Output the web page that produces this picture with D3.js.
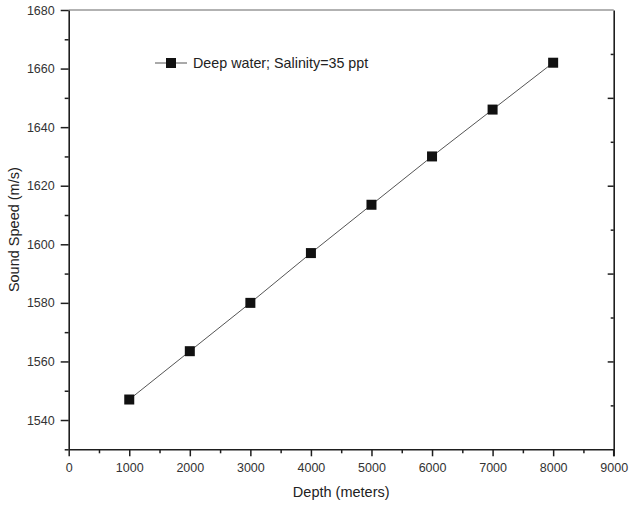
<!DOCTYPE html>
<html>
<head>
<meta charset="utf-8">
<script src="https://cdn.jsdelivr.net/npm/d3@7"></script>
<style>
  body { margin: 0; background: #fff; }
  svg { display: block; font-family: "Liberation Sans", Arial, sans-serif; }
</style>
</head>
<body>
<svg id="chart" width="629" height="505"></svg>
<script>
const depths = [1000, 2000, 3000, 4000, 5000, 6000, 7000, 8000];
const soundSpeed = [1547, 1563.5, 1580, 1597, 1613.5, 1630, 1646, 1662];
const xTicks = [0, 1000, 2000, 3000, 4000, 5000, 6000, 7000, 8000, 9000];
const yTicks = [1540, 1560, 1580, 1600, 1620, 1640, 1660, 1680];
const seriesName = "Deep water; Salinity=35 ppt";
const xTitle = "Depth (meters)";
const yTitle = "Sound Speed (m/s)";

const svg = d3.select("#chart");
const L = 68.7, R = 613.7, T = 10, B = 449.3;

const x = d3.scaleLinear().domain([0, 9000]).range([L, R]);
const y = d3.scaleLinear().domain([1530, 1680]).range([B, T]);

const axisColor = "#1e1e1e";
const textColor = "#333";

// top border line
svg.append("line").attr("x1", L).attr("x2", R).attr("y1", T).attr("y2", T)
  .attr("stroke", "#666").attr("stroke-width", 1.2);

// bottom axis
const gx = svg.append("g").attr("transform", `translate(0,${B})`);
gx.call(d3.axisBottom(x).tickValues(d3.range(500, 9000, 1000)).tickSize(4).tickFormat(""));
gx.call(g => g.select(".domain").remove());
const gx2 = svg.append("g").attr("transform", `translate(0,${B})`);
gx2.call(d3.axisBottom(x).tickValues(xTicks).tickSize(7).tickSizeOuter(0).tickPadding(7).tickFormat(d3.format("d")));
[gx, gx2].forEach(g => {
  g.selectAll("line").attr("stroke", axisColor).attr("stroke-width", 1.5);
  g.selectAll("path").attr("stroke", axisColor).attr("stroke-width", 1.6);
  g.selectAll("text").attr("fill", textColor).attr("font-size", 12.5)
    .attr("font-family", "'Liberation Sans', Arial, sans-serif");
});

// left axis
const gy = svg.append("g").attr("transform", `translate(${L},0)`);
gy.call(d3.axisLeft(y).tickValues(d3.range(1530, 1681, 20)).tickSize(4).tickFormat(""));
gy.call(g => g.select(".domain").remove());
const gy2 = svg.append("g").attr("transform", `translate(${L},0)`);
gy2.call(d3.axisLeft(y).tickValues(yTicks).tickSize(8).tickSizeOuter(0).tickPadding(6).tickFormat(d3.format("d")));
[gy, gy2].forEach(g => {
  g.selectAll("line").attr("stroke", axisColor).attr("stroke-width", 1.5);
  g.selectAll("path").attr("stroke", axisColor).attr("stroke-width", 1.6);
  g.selectAll("text").attr("fill", textColor).attr("font-size", 12.5)
    .attr("font-family", "'Liberation Sans', Arial, sans-serif");
});

// right axis (inward ticks, no labels)
const yr = d3.scaleLinear().domain([0, 10]).range([B, T]);
const gr = svg.append("g").attr("transform", `translate(${R},0)`);
gr.call(d3.axisLeft(yr).tickValues([1,3,5,7,9]).tickSize(3).tickFormat(""));
gr.call(g => g.select(".domain").remove());
const gr2 = svg.append("g").attr("transform", `translate(${R},0)`);
gr2.call(d3.axisLeft(yr).tickValues([2,4,6,8]).tickSize(6).tickSizeOuter(0).tickFormat(""));
[gr, gr2].forEach(g => {
  g.selectAll("line").attr("stroke", axisColor).attr("stroke-width", 1.5);
  g.selectAll("path").attr("stroke", axisColor).attr("stroke-width", 1.6);
});
svg.append("line").attr("x1", R).attr("x2", R).attr("y1", B).attr("y2", B + 7)
  .attr("stroke", axisColor).attr("stroke-width", 1.5);

// series line
const pts = depths.map((d, i) => [d, soundSpeed[i]]);
svg.append("path").datum(pts)
  .attr("fill", "none").attr("stroke", "#555").attr("stroke-width", 1)
  .attr("d", d3.line().x(d => x(d[0])).y(d => y(d[1])));

const ms = 10;
svg.append("g").selectAll("rect").data(pts).join("rect")
  .attr("x", d => x(d[0]) - ms / 2).attr("y", d => y(d[1]) - ms / 2)
  .attr("width", ms).attr("height", ms).attr("fill", "#111");

// legend
const lgX = 155, lgY = 63;
svg.append("line").attr("x1", lgX).attr("x2", lgX + 32).attr("y1", lgY).attr("y2", lgY)
  .attr("stroke", "#555").attr("stroke-width", 1);
svg.append("rect").attr("x", lgX + 16 - ms / 2).attr("y", lgY - ms / 2)
  .attr("width", ms).attr("height", ms).attr("fill", "#111");
svg.append("text").attr("x", lgX + 38).attr("y", lgY + 5)
  .attr("font-size", 14.3).attr("fill", "#222").text(seriesName);

// axis titles
svg.append("text").attr("x", (L + R) / 2).attr("y", 497).attr("text-anchor", "middle")
  .attr("font-size", 14.5).attr("fill", "#222").text(xTitle);
svg.append("text").attr("transform", `translate(19,${(T + B) / 2}) rotate(-90)`)
  .attr("text-anchor", "middle").attr("font-size", 14.5).attr("fill", "#222").text(yTitle);
</script>
</body>
</html>
